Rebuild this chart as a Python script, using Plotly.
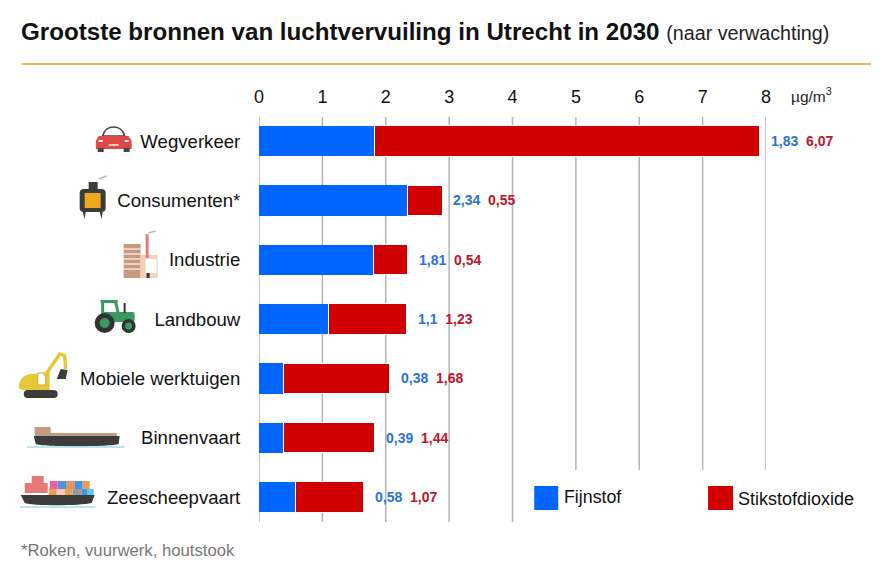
import base64
import plotly.graph_objects as go

bronnen = ["Wegverkeer", "Consumenten*", "Industrie", "Landbouw",
           "Mobiele werktuigen", "Binnenvaart", "Zeescheepvaart"]
fijnstof = [1.83, 2.34, 1.81, 1.1, 0.38, 0.39, 0.58]
stikstofdioxide = [6.07, 0.55, 0.54, 1.23, 1.68, 1.44, 1.07]
fijnstof_labels = ["1,83", "2,34", "1,81", "1,1", "0,38", "0,39", "0,58"]
stikstof_labels = ["6,07", "0,55", "0,54", "1,23", "1,68", "1,44", "1,07"]
x_ticks = [0, 1, 2, 3, 4, 5, 6, 7, 8]

BLAUW = "#0066ff"
ROOD = "#d00000"
W, H = 891, 573
L, R, T, B = 258.5, 125, 117, 51
PW, PH = W - L - R, H - T - B


# paper-coordinaten lopen over het plotvlak, dus omrekenen vanaf afbeeldingspixels
def px_x(x):
    return (x - L) / PW


def px_y(y):
    return 1 - (y - T) / PH


# pictogrammen als kleine svg's
car = """<path d='M7 13 C10 1 26 1 29 13 Z' fill='#fff' stroke='#444' stroke-width='1.6'/>
<path d='M3 13 L33 13 L36 18 L36 26 L0 26 L0 18 Z' fill='#e04848'/><rect x='2' y='25' width='6' height='4' fill='#444'/>
<rect x='28' y='25' width='6' height='4' fill='#444'/><rect x='13' y='21' width='10' height='2' fill='#f6caca'/>
<rect x='3' y='17' width='4' height='2' fill='#fff'/><rect x='29' y='17' width='4' height='2' fill='#fff'/>"""
stove = """<rect x='10' y='7' width='9' height='10' fill='#3c3c3c'/><rect x='1' y='14' width='26' height='23' rx='4' fill='#3c3c3c'/>
<rect x='6' y='18' width='16' height='15' fill='#eda81e'/><path d='M4 37 L6 44 L7 37 Z M21 37 L23 44 L24 37 Z' fill='#3c3c3c'/>
<path d='M20 4 L28 1' stroke='#bbb' stroke-width='1.5'/>"""
factory = """<rect x='1' y='14' width='17' height='34' fill='#c99a80'/>
<path d='M1 19 H18 M1 24 H18 M1 29 H18 M1 34 H18 M1 39 H18' stroke='#f3e3d8' stroke-width='1.4'/>
<rect x='18' y='25' width='17' height='23' fill='#f6cfb8'/><rect x='23' y='29' width='11' height='14' fill='#fff'/>
<rect x='23' y='4' width='3' height='24' fill='#df7f78'/><rect x='24' y='43' width='3' height='5' fill='#333'/>
<path d='M26 3 L33 1' stroke='#bbb' stroke-width='1.5'/>"""
tractor = """<rect x='7' y='1' width='17' height='3' fill='#3a9a60'/><path d='M9 3 V16 M22 3 L25 16' stroke='#3a9a60' stroke-width='3'/>
<rect x='8' y='13' width='33' height='10' rx='2' fill='#3a9a60'/><rect x='30' y='4' width='2' height='10' fill='#333'/>
<circle cx='11' cy='24' r='10' fill='#333'/><circle cx='11' cy='24' r='5' fill='#3a9a60'/>
<circle cx='35' cy='27' r='7' fill='#333'/><circle cx='35' cy='27' r='3.5' fill='#3a9a60'/>"""
excavator = """<rect x='5' y='38' width='34' height='8' rx='4' fill='#3c3c3c'/><path d='M0 36 C0 24 10 21 17 22 L31 20 L31 38 L4 38 Z' fill='#e3c93a'/>
<rect x='19' y='21' width='8' height='12' fill='#fff' stroke='#c9ae2c' stroke-width='1'/>
<path d='M26 24 L41 2 L46 4 L47 17' fill='none' stroke='#e3c93a' stroke-width='3.5'/><path d='M42 17 L49 18 L47 27 L38 27 Z' fill='#3c3c3c'/>"""
barge = """<rect x='8' y='0' width='16' height='8' fill='#c39b80'/><rect x='8' y='6' width='82' height='4' fill='#c39b80'/>
<path d='M7 9 L93 9 L92 17 C85 20 15 20 9 17 Z' fill='#3c3c3c'/><path d='M0 20 H98' stroke='#a8dcea' stroke-width='1.6'/>"""
ship = """<rect x='5' y='7' width='23' height='10' fill='#e67a78'/><rect x='12' y='0' width='12' height='8' fill='#e67a78'/>
<rect x='30' y='5' width='8' height='8' fill='#e85fa8'/><rect x='38' y='5' width='9' height='8' fill='#5a8fe0'/><rect x='47' y='5' width='8' height='8' fill='#e8925a'/>
<rect x='55' y='5' width='8' height='8' fill='#4a90e8'/><rect x='63' y='5' width='7' height='8' fill='#e8a050'/>
<rect x='29' y='13' width='8' height='6' fill='#e8a050'/><rect x='37' y='13' width='8' height='6' fill='#f2c8b0'/><rect x='45' y='13' width='8' height='6' fill='#e8a050'/>
<rect x='53' y='13' width='9' height='6' fill='#9a9a9a'/><rect x='62' y='13' width='6' height='6' fill='#4a90e8'/><rect x='68' y='13' width='6' height='6' fill='#5ac8e0'/>
<path d='M1 19 H75 L72 27 C60 30 12 30 5 27 Z' fill='#3c3c3c'/><path d='M0 31 H76' stroke='#a8dcea' stroke-width='1.6'/>"""

# svg, links, boven, breedte, hoogte in pixels van de afbeelding
icons = [
    (car, 95, 123, 37, 30),
    (stove, 78, 175, 29, 44),
    (factory, 122, 230, 36, 49),
    (tractor, 93, 299, 44, 35),
    (excavator, 18, 352, 50, 47),
    (barge, 26, 427, 98, 21),
    (ship, 19, 476, 76, 32),
]


def icon_image(svg, left, top, w, h):
    doc = f"<svg xmlns='http://www.w3.org/2000/svg' width='{w}' height='{h}' viewBox='0 0 {w} {h}'>{svg}</svg>"
    data = base64.b64encode(doc.encode()).decode()
    return dict(source="data:image/svg+xml;base64," + data, xref="paper", yref="paper",
                x=px_x(left), y=px_y(top), sizex=w / PW, sizey=h / PH,
                xanchor="left", yanchor="top", sizing="stretch", layer="above")


fig = go.Figure()
fig.add_trace(go.Bar(y=bronnen, x=fijnstof, orientation="h", marker=dict(color=BLAUW, line_width=0), name="Fijnstof"))
fig.add_trace(go.Bar(y=bronnen, x=stikstofdioxide, orientation="h", marker=dict(color=ROOD, line=dict(color="#ffffff", width=1)), name="Stikstofdioxide"))

# rasterlijnen: rechts stoppen ze boven de legenda
shapes = []
for t in x_ticks:
    shapes.append(dict(type="line", xref="x", yref="paper", x0=t, x1=t, y0=px_y(470) if t > 4 else 0, y1=1,
                       line=dict(color="#b4b4b4", width=1.5), layer="below"))
shapes.append(dict(type="line", xref="paper", yref="paper", x0=px_x(21), x1=px_x(871), y0=px_y(64), y1=px_y(64),
                   line=dict(color="#f0bc4a", width=2)))
shapes.append(dict(type="rect", xref="paper", yref="paper", x0=px_x(534), x1=px_x(558), y0=px_y(510), y1=px_y(486),
                   fillcolor=BLAUW, line_width=0))
shapes.append(dict(type="rect", xref="paper", yref="paper", x0=px_x(708), x1=px_x(733), y0=px_y(510), y1=px_y(486),
                   fillcolor=ROOD, line_width=0))

annotations = [
    dict(xref="paper", yref="paper", x=px_x(18.5), y=px_y(31), xanchor="left", yanchor="middle", showarrow=False,
         text="<b>Grootste bronnen van luchtvervuiling in Utrecht in 2030</b> <span style='font-size:19.7px;color:#222'>(naar verwachting)</span>",
         font=dict(size=24.15, color="#111111")),
    dict(xref="paper", yref="paper", x=px_x(789), y=px_y(95), xanchor="left", yanchor="middle", showarrow=False,
         text="µg/m<sup>3</sup>", font=dict(size=15.5, color="#222222")),
    dict(xref="paper", yref="paper", x=px_x(18), y=px_y(550), xanchor="left", yanchor="middle", showarrow=False,
         text="*Roken, vuurwerk, houtstook", font=dict(size=16.7, color="#777777")),
    dict(xref="paper", yref="paper", x=px_x(562), y=px_y(497), xanchor="left", yanchor="middle", showarrow=False,
         text="Fijnstof", font=dict(size=17.8, color="#111111")),
    dict(xref="paper", yref="paper", x=px_x(736), y=px_y(499), xanchor="left", yanchor="middle", showarrow=False,
         text="Stikstofdioxide", font=dict(size=18, color="#111111")),
]
for naam, f, s, fl, sl in zip(bronnen, fijnstof, stikstofdioxide, fijnstof_labels, stikstof_labels):
    annotations.append(dict(
        x=f + s, y=naam, xref="x", yref="y", xanchor="left", yanchor="middle", xshift=9, showarrow=False,
        text=f"<b><span style='color:#2a72d4'>{fl}</span>&nbsp;&nbsp;<span style='color:#c0162b'>{sl}</span></b>",
        font=dict(size=14),
    ))

fig.update_layout(
    barmode="stack",
    bargap=0.49,
    width=W,
    height=H,
    margin=dict(l=L, r=R, t=T, b=B, autoexpand=False),
    paper_bgcolor="white",
    plot_bgcolor="white",
    showlegend=False,
    font=dict(family="Liberation Sans, Arial, sans-serif", size=18, color="#111111"),
    shapes=shapes,
    annotations=annotations,
    images=[icon_image(*i) for i in icons],
)
fig.update_xaxes(side="top", range=[0, 8], tickvals=x_ticks, showgrid=False, zeroline=False, showline=False,
                 ticks="outside", ticklen=6, tickcolor="white", tickfont=dict(size=18))
fig.update_yaxes(type="category", categoryorder="array", categoryarray=bronnen, range=[6.42, -0.405],
                 showgrid=False, zeroline=False, showline=False,
                 ticks="outside", ticklen=14, tickcolor="white", tickfont=dict(size=18.6))

fig.write_html("out.html", config={"displayModeBar": False}, post_script="document.body.style.margin='0';")
